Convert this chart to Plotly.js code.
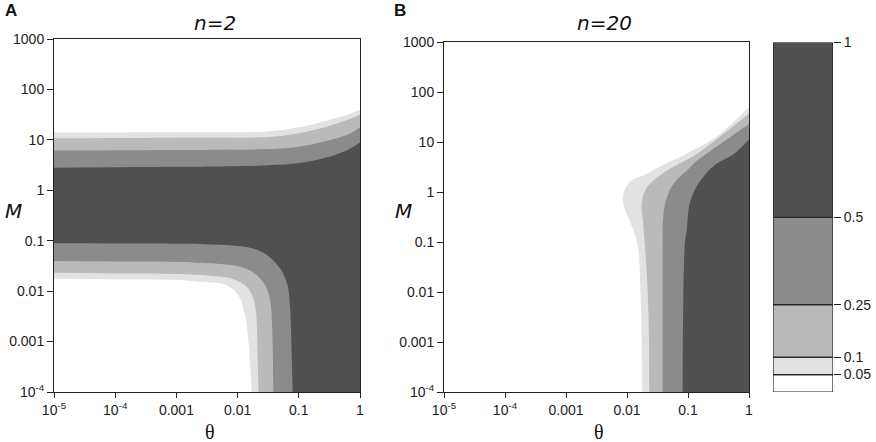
<!DOCTYPE html>
<html><head><meta charset="utf-8">
<script src="https://cdn.plot.ly/plotly-3.0.1.min.js"></script>
<style>html,body{margin:0;padding:0;background:#fff}#chart{width:876px;height:442px}</style>
</head><body><div id="chart"></div>
<script>
// ---------- data ----------
const levels = [0.05, 0.1, 0.25, 0.5, 1];
const levelLabels = ['0.05', '0.1', '0.25', '0.5', '1'];

const thetaTicks = [1e-5, 1e-4, 1e-3, 1e-2, 1e-1, 1];
const thetaTickText = ['10<sup>-5</sup>', '10<sup>-4</sup>', '0.001', '0.01', '0.1', '1'];
const mTicks = [1e-4, 1e-3, 1e-2, 1e-1, 1, 10, 100, 1000];
const mTickText = ['10<sup>-4</sup>', '0.001', '0.01', '0.1', '1', '10', '100', '1000'];

// Panel A (n=2): upper contour boundaries (theta left -> right)
const aTopTheta = [1e-5, 1e-4, 1e-3, 0.0025, 0.0316, 0.1, 0.282, 0.631, 1];
const aTopM_005 = [13.96, 14.03, 14.13, 14.19, 14.66, 17.70, 23.99, 31.62, 39.36];
const aTopM_010 = [10.79, 10.91, 11.04, 11.09, 11.35, 13.49, 18.20, 25.12, 31.33];
const aTopM_025 = [6.12, 6.19, 6.28, 6.32, 6.56, 7.33, 9.48, 12.74, 17.86];
const aTopM_050 = [2.81, 2.86, 2.92, 2.94, 3.13, 3.47, 4.47, 6.31, 8.83];

// Panel A (n=2): lower-left contour boundaries (left edge -> bottom edge)
const aLowTheta_005 = [1e-5, 1e-4, 1e-3, 0.0024, 0.00665, 0.0103, 0.0124, 0.0141, 0.0170];
const aLowM_005 = [0.0177, 0.0172, 0.0166, 0.0153, 0.0131, 0.00832, 0.00453, 0.00211, 1e-4];
const aLowTheta_010 = [1e-5, 1e-4, 1e-3, 0.0024, 0.0085, 0.0141, 0.0181, 0.020, 0.0206, 0.0219];
const aLowM_010 = [0.0231, 0.0225, 0.0219, 0.0208, 0.0173, 0.0122, 0.00716, 0.00388, 0.00211, 1e-4];
const aLowTheta_025 = [1e-5, 1e-4, 1e-3, 0.0024, 0.011, 0.0206, 0.030, 0.0349, 0.0366, 0.0385];
const aLowM_025 = [0.0394, 0.0388, 0.0380, 0.0365, 0.0304, 0.0208, 0.0113, 0.00527, 0.00211, 1e-4];
const aLowTheta_050 = [1e-5, 1e-4, 1e-3, 0.0024, 0.016, 0.030, 0.0495, 0.0653, 0.0723, 0.0741, 0.0794];
const aLowM_050 = [0.0887, 0.0879, 0.0871, 0.0859, 0.0724, 0.0519, 0.0282, 0.0132, 0.00453, 0.00211, 1e-4];

// Panel B (n=20): contour boundaries (right edge -> bottom edge)
const bTheta_005 = [1, 0.295, 0.0832, 0.0324, 0.0186, 0.0126, 0.00977, 0.00851, 0.0100, 0.0117, 0.0148, 0.0166, 0.0174, 0.0178];
const bM_005 = [50.1, 12.9, 5.37, 3.09, 2.14, 1.78, 1.29, 0.708, 0.355, 0.224, 0.0955, 0.01, 0.001, 1e-4];
const bTheta_010 = [1, 0.398, 0.148, 0.0417, 0.0209, 0.0174, 0.0182, 0.0195, 0.0219, 0.0229, 0.0231];
const bM_010 = [37.2, 15.1, 6.03, 2.51, 1.20, 0.562, 0.282, 0.0955, 0.01, 0.001, 1e-4];
const bTheta_025 = [1, 0.331, 0.138, 0.100, 0.0617, 0.0447, 0.0389, 0.0384, 0.0384];
const bM_025 = [22.9, 8.91, 4.17, 2.82, 1.62, 0.759, 0.282, 0.0955, 1e-4];
const bTheta_050 = [1, 0.55, 0.282, 0.178, 0.138, 0.107, 0.0955, 0.0891, 0.0841, 0.0817];
const bM_050 = [11.2, 5.62, 3.55, 2.0, 1.29, 0.603, 0.178, 0.0955, 0.01, 1e-4];

// ---------- styling ----------
const bandColors = ['#ffffff', '#e2e2e2', '#bababa', '#8b8b8b', '#505050']; // below 0.05, 0.05-0.1, 0.1-0.25, 0.25-0.5, 0.5-1
const TICKFONT = {family: 'Liberation Sans, Arial, sans-serif', size: 14, color: '#222'};
const W = 876, H = 442;
const px = v => v / W, py = v => 1 - v / H;

// helper extents just outside the axes (in data units) so outlines close off-plot
const X_LEFT = 1e-6, X_RIGHT = 10, Y_BOTTOM = 1e-5;

function polyA(topT, topM, lowT, lowM, color, xa, ya) {
  const xs = [], ys = [];
  for (let i = topT.length - 1; i >= 0; i--) { xs.push(topT[i]); ys.push(topM[i]); }
  xs.push(X_LEFT); ys.push(topM[0]);
  xs.push(X_LEFT); ys.push(lowM[0]);
  for (let i = 0; i < lowT.length; i++) { xs.push(lowT[i]); ys.push(lowM[i]); }
  const tb = lowT[lowT.length - 1];
  xs.push(tb); ys.push(Y_BOTTOM);
  xs.push(X_RIGHT); ys.push(Y_BOTTOM);
  xs.push(X_RIGHT); ys.push(topM[topM.length - 1]);
  return {type: 'scatter', mode: 'lines', x: xs, y: ys, xaxis: xa, yaxis: ya,
    fill: 'toself', fillcolor: color, line: {width: 0, color: color, shape: 'spline', smoothing: 1},
    hoverinfo: 'skip', showlegend: false};
}
function polyB(t, m, color, xa, ya) {
  const xs = t.slice(), ys = m.slice();
  const tb = t[t.length - 1];
  xs.push(tb); ys.push(Y_BOTTOM);
  xs.push(X_RIGHT); ys.push(Y_BOTTOM);
  xs.push(X_RIGHT); ys.push(m[0]);
  return {type: 'scatter', mode: 'lines', x: xs, y: ys, xaxis: xa, yaxis: ya,
    fill: 'toself', fillcolor: color, line: {width: 0, color: color, shape: 'spline', smoothing: 1},
    hoverinfo: 'skip', showlegend: false};
}

const traces = [
  polyA(aTopTheta, aTopM_005, aLowTheta_005, aLowM_005, bandColors[1], 'x', 'y'),
  polyA(aTopTheta, aTopM_010, aLowTheta_010, aLowM_010, bandColors[2], 'x', 'y'),
  polyA(aTopTheta, aTopM_025, aLowTheta_025, aLowM_025, bandColors[3], 'x', 'y'),
  polyA(aTopTheta, aTopM_050, aLowTheta_050, aLowM_050, bandColors[4], 'x', 'y'),
  polyB(bTheta_005, bM_005, bandColors[1], 'x2', 'y2'),
  polyB(bTheta_010, bM_010, bandColors[2], 'x2', 'y2'),
  polyB(bTheta_025, bM_025, bandColors[3], 'x2', 'y2'),
  polyB(bTheta_050, bM_050, bandColors[4], 'x2', 'y2')
];

// colour key as stacked segments
const cbBase = [0].concat(levels.slice(0, -1));
const cbLen = levels.map((v, i) => v - cbBase[i]);
traces.push({type: 'bar', x: levels.map(() => 0), y: cbLen, base: cbBase, width: 1,
  xaxis: 'x3', yaxis: 'y3', marker: {color: bandColors, line: {color: '#222', width: 1.2}},
  hoverinfo: 'skip', showlegend: false});

function logX(domain) {
  return {type: 'log', range: [-5, 0], domain: domain, tickvals: thetaTicks, ticktext: thetaTickText,
    showline: true, mirror: true, linecolor: '#222', linewidth: 1, ticks: 'outside', ticklen: 5,
    tickwidth: 1, tickcolor: '#222', showgrid: false, zeroline: false, tickfont: TICKFONT, fixedrange: true};
}
function logY(domain, anchor) {
  return {type: 'log', range: [-4, 3], domain: domain, anchor: anchor, tickvals: mTicks, ticktext: mTickText,
    showline: true, mirror: true, linecolor: '#222', linewidth: 1, ticks: 'outside', ticklen: 6,
    tickwidth: 1, tickcolor: '#222', showgrid: false, zeroline: false, tickfont: TICKFONT, fixedrange: true};
}

const xA = logX([px(54), px(360)]); xA.anchor = 'y';
const yA = logY([py(392), py(39)], 'x');
const xB = logX([px(444), px(749)]); xB.anchor = 'y2';
const yB = logY([py(392), py(42)], 'x2');

const sansIt = {family: 'DejaVu Sans, sans-serif', size: 20, color: '#111', style: 'italic'};
const serif = {family: 'Liberation Serif, DejaVu Serif, serif', size: 20, color: '#111'};
const bold = {family: 'Liberation Sans, Arial, sans-serif', size: 17, color: '#111', weight: 'bold'};

function ann(text, x, y, font) {
  return {text: text, x: px(x), y: py(y), xref: 'paper', yref: 'paper', showarrow: false,
    xanchor: 'center', yanchor: 'middle', font: font};
}

const layout = {
  width: W, height: H, margin: {l: 0, r: 0, t: 0, b: 0},
  paper_bgcolor: '#fff', plot_bgcolor: '#fff', showlegend: false, barmode: 'overlay',
  xaxis: xA, yaxis: yA, xaxis2: xB, yaxis2: yB,
  xaxis3: {domain: [px(773), px(833)], anchor: 'y3', range: [-0.5, 0.5], showticklabels: false,
    ticks: '', showgrid: false, zeroline: false, showline: false, fixedrange: true},
  yaxis3: {domain: [py(392), py(42.5)], anchor: 'x3', side: 'right', range: [0, 1],
    tickvals: levels, ticktext: levelLabels, ticks: 'outside', ticklen: 7, tickwidth: 1, tickcolor: '#222',
    showgrid: false, zeroline: false, showline: false, tickfont: TICKFONT, fixedrange: true},
  annotations: [
    ann('A', 10.5, 10.5, bold),
    ann('B', 400, 10.5, bold),
    ann('n=2', 215, 23, sansIt),
    ann('n=20', 604, 23, sansIt),
    ann('M', 13.5, 211, sansIt),
    ann('M', 403, 211, sansIt),
    ann('θ', 210, 432, serif),
    ann('θ', 599, 432, serif)
  ]
};

Plotly.newPlot('chart', traces, layout, {staticPlot: true, displayModeBar: false});
</script>
</body></html>
